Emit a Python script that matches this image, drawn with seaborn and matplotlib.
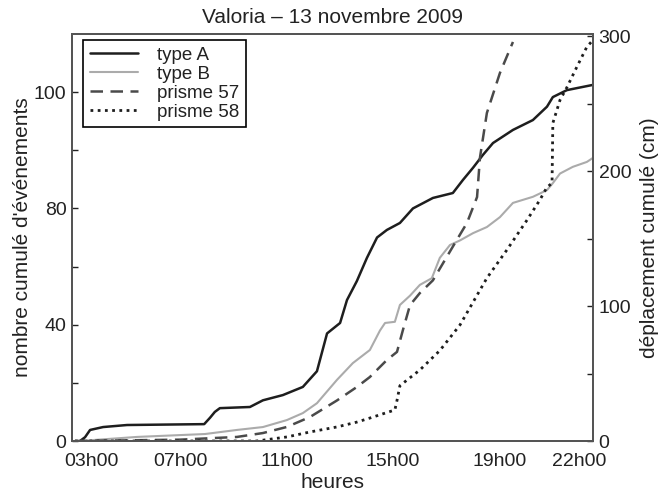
import matplotlib
matplotlib.use("Agg")
import matplotlib.pyplot as plt
import seaborn as sns
import numpy as np

# ---- data (hours, cumulative values) ----
typeA_t = [3.23, 3.42, 3.61, 4.10, 5.0, 7.9, 8.12, 8.3, 8.49, 9.62, 10.11, 10.86, 11.61, 12.14,
           12.52, 13.01, 13.27, 13.64, 14.02, 14.40, 14.77, 15.26, 15.75, 16.50, 17.25, 17.63,
           18.01, 18.38, 18.76, 19.51, 20.26, 20.79, 21.01, 21.54, 22.52]
typeA_v = [0, 1.3, 3.8, 4.8, 5.5, 5.8, 8, 10, 11.3, 11.7, 14, 15.8, 18.6, 24,
           37, 40.6, 48.5, 55, 63, 70, 72.6, 75, 80, 83.6, 85.3, 89.8,
           94, 98.4, 102.5, 107, 110.4, 115, 118.3, 120.7, 122.5]

typeB_t = [3.23, 5.37, 7.93, 9.13, 10.11, 11.01, 11.61, 12.14, 12.89, 13.49, 14.13, 14.51,
           14.70, 15.07, 15.26, 15.64, 16.01, 16.46, 16.76, 17.14, 17.52, 18.01, 18.53,
           19.02, 19.51, 20.26, 20.79, 21.01, 21.28, 21.76, 22.29, 22.52]
typeB_v = [0, 1.4, 2.4, 3.8, 4.8, 7.2, 9.6, 13, 21, 26.8, 31.3, 38,
           40.6, 41, 46.8, 50, 53.7, 56, 63, 67.4, 69, 71.5, 73.6,
           77, 81.9, 84, 86.3, 88.7, 92, 94.3, 96, 97.4]

p57_t = [3.04, 7.0, 9.13, 10.11, 11.01, 11.88, 12.89, 13.64, 14.13, 14.77, 15.15, 15.37,
         15.64, 16.01, 16.50, 17.40, 17.78, 18.16, 18.27, 18.53, 19.02, 19.51]
p57_v = [0, 1, 3, 5.9, 10.4, 17.8, 30, 40, 47.4, 60, 66, 82,
         100.7, 109.6, 119, 149, 161.5, 180.7, 210, 243, 272.6, 295.6]

p58_t = [3.04, 9.88, 11.01, 11.88, 12.89, 13.64, 14.13, 15.07, 15.15, 15.26, 16.01, 16.76,
         17.52, 18.53, 19.28, 20.04, 20.52, 20.79, 20.98, 21.01, 21.28, 21.54, 21.91,
         22.29, 22.52]
p58_v = [0, 0, 3, 6.7, 10.4, 14, 17, 23, 30, 41, 52.6, 67,
         86, 120.7, 141.5, 163.7, 178.5, 188, 191, 235.5, 252.6, 262, 277,
         292, 297]

xtick_pos = [3, 5, 7, 9, 11, 13, 15, 17, 19, 21, 22]
xtick_lab = ["", "", "07h00", "", "11h00", "", "15h00", "", "19h00", "", "22h00"]
first_xlabel = "03h00"
ytick_pos = [0, 20, 40, 60, 80, 100, 120]
ytick_lab = ["0", "", "40", "", "80", "", "100"]
y2tick_pos = [0, 50, 100, 150, 200, 250, 300]
y2tick_lab = ["0", "", "100", "", "200", "", "300"]

# ---- style ----
sns.set_style("white")
plt.rcParams['font.family'] = ['Liberation Sans', 'DejaVu Sans']
plt.rcParams['text.color'] = '#222222'
plt.rcParams['axes.labelcolor'] = '#222222'
plt.rcParams['xtick.color'] = '#222222'
plt.rcParams['ytick.color'] = '#222222'

fig = plt.figure(figsize=(6.70, 4.97), dpi=100)
ax = fig.add_axes([72/670, 1-441/497, (593-72)/670, (441-34)/497])
ax2 = ax.twinx()

sns.lineplot(x=typeA_t, y=typeA_v, ax=ax, color="#1e1e1e", lw=1.8, estimator=None, sort=False,
             label="type A", legend=False)
sns.lineplot(x=typeB_t, y=typeB_v, ax=ax, color="#ababab", lw=1.5, estimator=None, sort=False,
             label="type B", legend=False)
sns.lineplot(x=p57_t, y=p57_v, ax=ax2, color="#4a4a4a", lw=1.8, estimator=None, sort=False,
             label="prisme 57", legend=False)
ax2.lines[-1].set_dashes([5, 3])
sns.lineplot(x=p58_t, y=p58_v, ax=ax2, color="#1e1e1e", lw=2.0, estimator=None, sort=False,
             label="prisme 58", legend=False)
ax2.lines[-1].set_dashes([1, 1.6])

ax.set_xlim(2.93, 22.52)
ax.set_ylim(0, 140)
ax2.set_ylim(0, 301.5)

ax.set_xticks(xtick_pos)
ax.set_xticklabels(xtick_lab)
ax.set_yticks(ytick_pos)
ax.set_yticklabels(ytick_lab)
ax2.set_yticks(y2tick_pos)
ax2.set_yticklabels(y2tick_lab)

for a in (ax, ax2):
    a.tick_params(direction="in", length=4, width=1, labelsize=14, pad=4)
    for s in a.spines.values():
        s.set_color("#555555")
        s.set_linewidth(1.4)
        s.set_visible(True)
ax.tick_params(axis="x", pad=9)

# first x label sits slightly right of its tick, as in the reference
ax.annotate(first_xlabel, xy=(xtick_pos[0], 0), xycoords=("data", "axes fraction"),
            xytext=(13, -9), textcoords="offset points", ha="center", va="top",
            fontsize=14, color="#222222")

ax.set_xlabel("heures", fontsize=15, labelpad=2)
ax.set_ylabel("nombre cumulé d'événements", fontsize=15, labelpad=1)
ax2.set_ylabel("déplacement cumulé (cm)", fontsize=15, labelpad=6)
ax.set_title("Valoria – 13 novembre 2009", fontsize=15, pad=8)

h1, l1 = ax.get_legend_handles_labels()
h2, l2 = ax2.get_legend_handles_labels()
leg = ax2.legend(h1 + h2, l1 + l2, loc="upper left", bbox_to_anchor=(0.021, 0.985),
                 fontsize=13.5, frameon=True, fancybox=False, edgecolor="black",
                 framealpha=1, handlelength=2.6, handletextpad=1.0, borderpad=0.35,
                 labelspacing=0.1, borderaxespad=0)
leg.get_frame().set_linewidth(1.2)

fig.savefig("out.png", dpi=100)
